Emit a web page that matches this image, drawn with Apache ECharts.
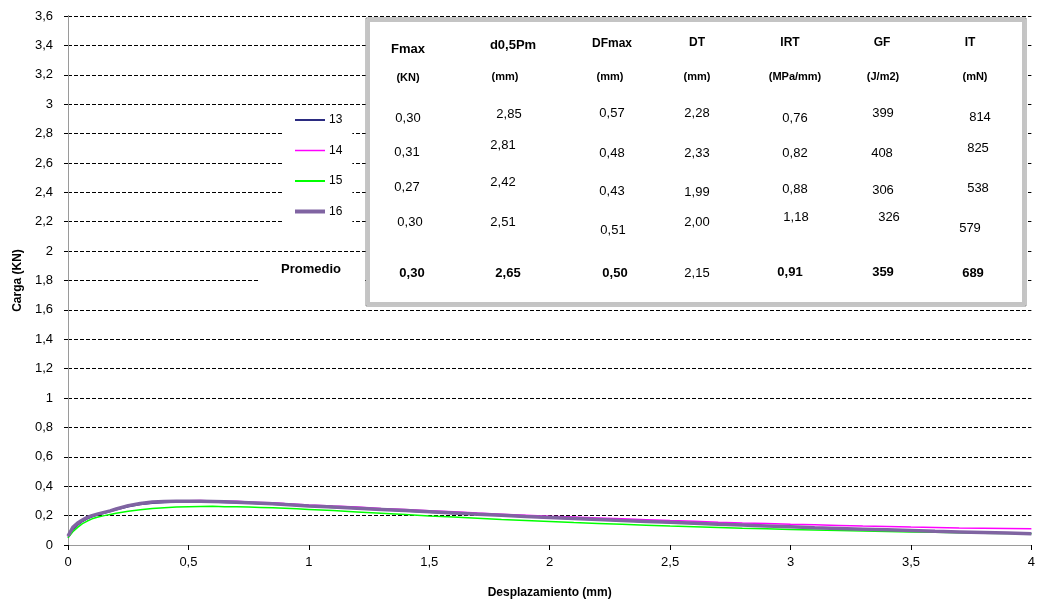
<!DOCTYPE html>
<html>
<head>
<meta charset="utf-8">
<script src="https://cdn.jsdelivr.net/npm/echarts@6/dist/echarts.min.js"></script>
<style>
  html, body { margin: 0; padding: 0; background: #fff; }
  #chart { width: 1038px; height: 605px; }
</style>
</head>
<body>
<div id="chart"></div>
<script>
// Displacement samples (mm) shared by the four load curves
const desplazamiento = [0,0.02,0.04,0.06,0.08,0.1,0.125,0.15,0.175,0.2,0.25,0.3,0.35,0.4,0.45,0.5,0.55,0.6,0.65,0.7,0.75,0.8,0.85,0.9,0.95,1.0,1.1,1.2,1.3,1.4,1.5,1.6,1.7,1.8,1.9,2.0,2.1,2.2,2.3,2.4,2.5,2.6,2.7,2.8,2.9,3.0,3.1,3.2,3.3,3.4,3.5,3.6,3.7,3.8,3.9,4.0];

// Load (KN) for each specimen
const carga13 = [0.05,0.1,0.135,0.16,0.178,0.192,0.205,0.216,0.228,0.24,0.26,0.275,0.284,0.289,0.292,0.293,0.291,0.292,0.289,0.287,0.285,0.281,0.277,0.274,0.268,0.264,0.256,0.248,0.24,0.231,0.223,0.215,0.207,0.2,0.192,0.185,0.178,0.172,0.165,0.159,0.153,0.147,0.141,0.135,0.129,0.123,0.118,0.112,0.107,0.102,0.097,0.093,0.089,0.085,0.081,0.078];
const carga14 = [0.055,0.11,0.142,0.165,0.184,0.198,0.21,0.221,0.232,0.244,0.266,0.282,0.291,0.297,0.3,0.301,0.302,0.3,0.298,0.297,0.293,0.29,0.287,0.282,0.278,0.273,0.265,0.258,0.249,0.241,0.233,0.226,0.217,0.21,0.203,0.196,0.19,0.184,0.178,0.172,0.166,0.161,0.155,0.15,0.146,0.141,0.137,0.133,0.129,0.126,0.122,0.119,0.116,0.114,0.112,0.11];
const carga15 = [0.05,0.09,0.12,0.145,0.163,0.178,0.19,0.2,0.208,0.216,0.229,0.24,0.248,0.254,0.258,0.261,0.262,0.263,0.261,0.26,0.258,0.256,0.253,0.25,0.246,0.242,0.234,0.225,0.216,0.207,0.198,0.19,0.182,0.174,0.167,0.16,0.153,0.147,0.141,0.135,0.129,0.124,0.119,0.114,0.11,0.106,0.102,0.098,0.095,0.092,0.089,0.086,0.083,0.08,0.078,0.076];
const carga16 = [0.06,0.12,0.15,0.17,0.188,0.2,0.212,0.222,0.232,0.245,0.268,0.283,0.292,0.296,0.298,0.298,0.297,0.296,0.294,0.291,0.288,0.284,0.28,0.276,0.271,0.266,0.258,0.25,0.242,0.234,0.226,0.218,0.21,0.202,0.194,0.187,0.18,0.173,0.166,0.16,0.154,0.148,0.142,0.136,0.13,0.124,0.118,0.113,0.108,0.103,0.098,0.093,0.089,0.085,0.081,0.077];

const probetas = ['13', '14', '15', '16'];

// Summary table
const tablaTitulos = ['Fmax', 'd0,5Pm', 'DFmax', 'DT', 'IRT', 'GF', 'IT'];
const tablaUnidades = ['(KN)', '(mm)', '(mm)', '(mm)', '(MPa/mm)', '(J/m2)', '(mN)'];
const fila13 = ['0,30', '2,85', '0,57', '2,28', '0,76', '399', '814'];
const fila14 = ['0,31', '2,81', '0,48', '2,33', '0,82', '408', '825'];
const fila15 = ['0,27', '2,42', '0,43', '1,99', '0,88', '306', '538'];
const fila16 = ['0,30', '2,51', '0,51', '2,00', '1,18', '326', '579'];
const filaPromedio = ['0,30', '2,65', '0,50', '2,15', '0,91', '359', '689'];
const etiquetaPromedio = 'Promedio';

const FONT = '"Liberation Sans", Arial, sans-serif';
const pairs = (ys) => desplazamiento.map((x, i) => [x, ys[i]]);
const comma = (v) => String(+v.toFixed(1)).replace('.', ',');

// Cell layout of the table (text centres)
const headY = [49, 45, 44, 43, 43, 43, 43];
const headX = [408, 513, 612, 697, 790, 882, 970];
const unitY = [78, 77, 77, 77, 77, 77, 77];
const unitX = [408, 505, 610, 697, 795, 883, 975];
const rowLayout = [
  { x: [408, 509, 612, 697, 795, 883, 980], y: [118, 114, 113, 113, 118, 113, 117] },
  { x: [407, 503, 612, 697, 795, 882, 978], y: [152, 145, 153, 153, 153, 153, 148] },
  { x: [407, 503, 612, 697, 795, 883, 978], y: [187, 182, 191, 192, 189, 190, 188] },
  { x: [410, 503, 613, 697, 796, 889, 970], y: [222, 222, 230, 222, 217, 217, 228] },
  { x: [412, 508, 615, 697, 790, 883, 973], y: [273, 273, 273, 273, 272, 272, 273] }
];
const tableRows = [fila13, fila14, fila15, fila16, filaPromedio];

function txt(x, y, text, font) {
  return {
    type: 'text', z: 101,
    style: { x: x, y: y, text: text, font: font, fill: '#000', textAlign: 'center', textVerticalAlign: 'middle' }
  };
}

const graphics = [
  // table frame
  { type: 'rect', z: 100, shape: { x: 366, y: 18, width: 660, height: 288 },
    style: { fill: '#fff', stroke: '#8c8c8c', lineWidth: 1 } },
  { type: 'rect', z: 100, shape: { x: 368.5, y: 20.5, width: 655, height: 283 },
    style: { fill: '#fff', stroke: '#c4c4c4', lineWidth: 3 } },
  // "Promedio" label
  { type: 'rect', z: 100, shape: { x: 258, y: 258, width: 107, height: 26 }, style: { fill: '#fff' } },
  txt(311, 269, etiquetaPromedio, 'bold 13px ' + FONT)
];
tablaTitulos.forEach((t, i) => {
  const size = i < 2 ? 13 : 12;
  graphics.push(txt(headX[i], headY[i], t, 'bold ' + size + 'px ' + FONT));
  graphics.push(txt(unitX[i], unitY[i], tablaUnidades[i], 'bold 11px ' + FONT));
});
tableRows.forEach((row, r) => {
  row.forEach((v, c) => {
    const bold = r === 4 && c !== 3;
    graphics.push(txt(rowLayout[r].x[c], rowLayout[r].y[c], v, (bold ? 'bold ' : '') + '13px ' + FONT));
  });
});

const colores = ['#2b2b80', '#ff00ff', '#00ff00', '#8064a2'];
const anchos = [1.5, 1.5, 1.5, 3.5];
const anchosLeyenda = [2, 1.5, 2, 4];
const datos = [carga13, carga14, carga15, carga16];

const chart = echarts.init(document.getElementById('chart'), null, { renderer: 'canvas' });
chart.setOption({
  backgroundColor: '#fff',
  animation: false,
  textStyle: { fontFamily: FONT },
  grid: { left: 68, right: 6, top: 16, bottom: 60, containLabel: false },
  legend: {
    orient: 'vertical',
    left: 284, top: 108,
    backgroundColor: '#fff',
    padding: [6, 10, 8, 9],
    itemWidth: 30, itemHeight: 12, itemGap: 18.5,
    itemStyle: { opacity: 0 },
    textStyle: { fontSize: 12, color: '#000', fontFamily: FONT, padding: [0, 0, 0, -1] },
    data: probetas.map((name, i) => ({ name: name, lineStyle: { width: anchosLeyenda[i], color: colores[i] } })),
    z: 50
  },
  xAxis: [{
    type: 'value', min: 0, max: 4, interval: 0.5,
    name: 'Desplazamiento (mm)', nameLocation: 'middle', nameGap: 42,
    nameTextStyle: { fontSize: 12, fontWeight: 'bold', color: '#000', fontFamily: FONT },
    axisLine: { lineStyle: { color: '#000', width: 1 } },
    axisTick: { show: true, length: 5, lineStyle: { color: '#000' } },
    axisLabel: { fontSize: 13, color: '#000', margin: 11, formatter: comma, fontFamily: FONT },
    splitLine: { show: false }
  }, {
    type: 'value', min: 0, max: 4, position: 'top',
    axisLine: { show: true, lineStyle: { color: '#9a9a9a', width: 1 } },
    axisTick: { show: false }, axisLabel: { show: false }, splitLine: { show: false }
  }],
  yAxis: [{
    type: 'value', min: 0, max: 3.6, interval: 0.2,
    name: 'Carga (KN)', nameLocation: 'middle', nameGap: 42, nameRotate: 90,
    nameTextStyle: { fontSize: 12, fontWeight: 'bold', color: '#000', fontFamily: FONT },
    axisLine: { show: true, lineStyle: { color: '#000', width: 1 } },
    axisTick: { show: true, length: 4, lineStyle: { color: '#000' } },
    axisLabel: { fontSize: 13, color: '#000', margin: 15, formatter: comma, fontFamily: FONT },
    splitLine: { show: true, lineStyle: { color: '#000', type: [4, 2], width: 1 } }
  }, {
    type: 'value', min: 0, max: 3.6, position: 'right',
    axisLine: { show: true, lineStyle: { color: '#9a9a9a', width: 1 } },
    axisTick: { show: false }, axisLabel: { show: false }, splitLine: { show: false }
  }],
  series: probetas.map((name, i) => ({
    name: name, type: 'line', xAxisIndex: 0, yAxisIndex: 0,
    data: pairs(datos[i]), symbol: 'none', showSymbol: false, smooth: false,
    lineStyle: { color: colores[i], width: anchos[i] },
    itemStyle: { color: colores[i] },
    z: 2 + i
  })),
  graphic: graphics
});
</script>
</body>
</html>
